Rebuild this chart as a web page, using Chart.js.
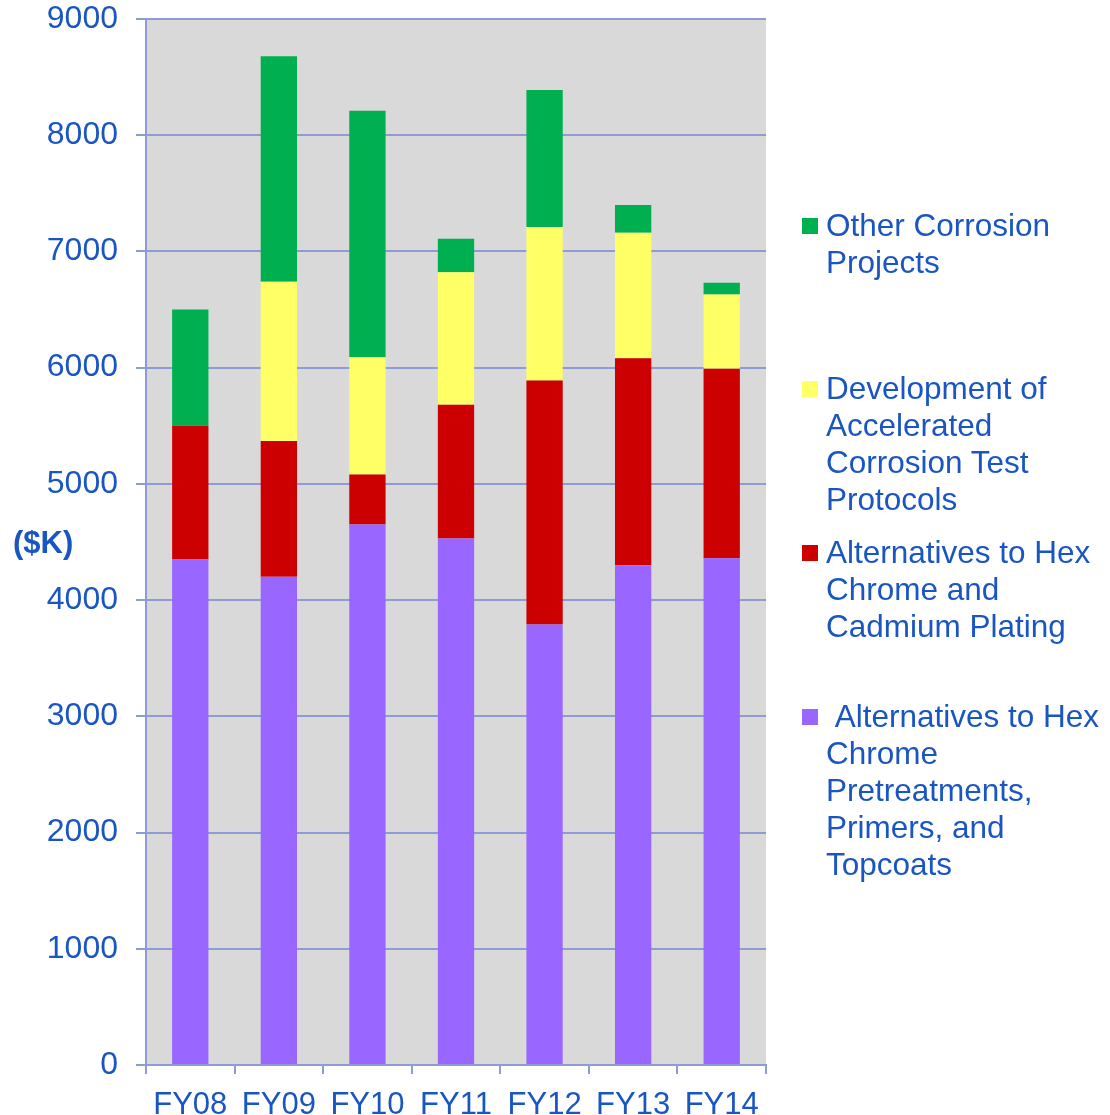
<!DOCTYPE html>
<html>
<head>
<meta charset="utf-8">
<script src="https://cdn.jsdelivr.net/npm/chart.js@4/dist/chart.umd.min.js"></script>
<style>
  html, body { margin: 0; padding: 0; background: #ffffff; }
  #wrap { position: relative; width: 1110px; height: 1115px; font-family: "Liberation Sans", Arial, sans-serif; color: #1A56C2; }
  #c { position: absolute; left: 0; top: 0; }
  .ytitle { position: absolute; left: 13px; top: 524px; font-size: 31px; font-weight: bold; line-height: 37px; }
  .leg { position: absolute; left: 826px; font-size: 31.5px; line-height: 37px; white-space: nowrap; }
  .sw { position: absolute; left: -24px; top: 11px; width: 16px; height: 16px; }
</style>
</head>
<body>
<div id="wrap">
  <canvas id="c" width="1110" height="1115"></canvas>
  <div class="ytitle">($K)</div>
  <div id="legend"></div>
</div>
<script>
const categories = ["FY08", "FY09", "FY10", "FY11", "FY12", "FY13", "FY14"];
const seriesNames = [
  "Alternatives to Hex Chrome Pretreatments, Primers, and Topcoats",
  "Alternatives to Hex Chrome and Cadmium Plating",
  "Development of Accelerated Corrosion Test Protocols",
  "Other Corrosion Projects"
];
const pretreatments = [4350, 4200, 4650, 4530, 3790, 4300, 4360];
const plating       = [1150, 1170, 430, 1150, 2100, 1780, 1630];
const testProtocols = [0, 1370, 1010, 1140, 1320, 1080, 640];
const otherProjects = [1000, 1940, 2120, 290, 1180, 240, 100];
const yTicks = [0, 1000, 2000, 3000, 4000, 5000, 6000, 7000, 8000, 9000];

const colors = ["#9966FF", "#CC0000", "#FFFF66", "#00B050"];
const textColor = "#1A56C2";
const lineColor = "#8E9BD5";
const FONT = "'Liberation Sans', Arial, sans-serif";

const legendItems = [
  { color: colors[3], lines: ["Other Corrosion", "Projects"], top: 207 },
  { color: colors[2], lines: ["Development of", "Accelerated", "Corrosion Test", "Protocols"], top: 370 },
  { color: colors[1], lines: ["Alternatives to Hex", "Chrome and", "Cadmium Plating"], top: 534 },
  { color: colors[0], lines: ["\u00a0Alternatives to Hex", "Chrome", "Pretreatments,", "Primers, and", "Topcoats"], top: 698 }
];
const legendEl = document.getElementById("legend");
legendItems.forEach(it => {
  const d = document.createElement("div");
  d.className = "leg";
  d.style.top = it.top + "px";
  const sw = document.createElement("div");
  sw.className = "sw";
  sw.style.background = it.color;
  d.appendChild(sw);
  it.lines.forEach((l, i) => {
    if (i) d.appendChild(document.createElement("br"));
    d.appendChild(document.createTextNode(l));
  });
  legendEl.appendChild(d);
});

const bgPlugin = {
  id: "plotBg",
  beforeDraw(chart) {
    const { ctx, chartArea: a } = chart;
    ctx.save();
    ctx.fillStyle = "#D9D9D9";
    ctx.fillRect(a.left, a.top, a.right - a.left, a.bottom - a.top);
    ctx.restore();
  }
};

const data = [pretreatments, plating, testProtocols, otherProjects];
new Chart(document.getElementById("c"), {
  type: "bar",
  data: {
    labels: categories,
    datasets: data.map((arr, i) => ({
      label: seriesNames[i],
      data: arr,
      backgroundColor: colors[i],
      borderWidth: 0,
      categoryPercentage: 1,
      barPercentage: 0.41
    }))
  },
  options: {
    responsive: false,
    animation: false,
    layout: { padding: { left: 0, right: 344, top: 19, bottom: 0 } },
    plugins: { legend: { display: false }, tooltip: { enabled: false } },
    scales: {
      x: {
        stacked: true,
        grid: { display: true, drawOnChartArea: false, drawTicks: true, tickLength: 9, color: lineColor, lineWidth: 2, offset: true },
        border: { display: true, color: lineColor, width: 2 },
        ticks: { color: textColor, font: { family: FONT, size: 31 }, padding: 13, maxRotation: 0, autoSkip: false },
        afterFit(s) { s.height = 50; s.paddingLeft = 0; s.paddingRight = 0; }
      },
      y: {
        stacked: true,
        min: 0, max: 9000,
        afterBuildTicks(s) { s.ticks = yTicks.map(v => ({ value: v })); },
        grid: { color: lineColor, lineWidth: 2, tickLength: 10 },
        border: { display: true, color: lineColor, width: 2 },
        ticks: { color: textColor, font: { family: FONT, size: 32 }, padding: 18, callback: v => String(v) },
        afterFit(s) { s.width = 146; s.paddingTop = 0; s.paddingBottom = 0; }
      }
    }
  },
  plugins: [bgPlugin]
});
</script>
</body>
</html>
